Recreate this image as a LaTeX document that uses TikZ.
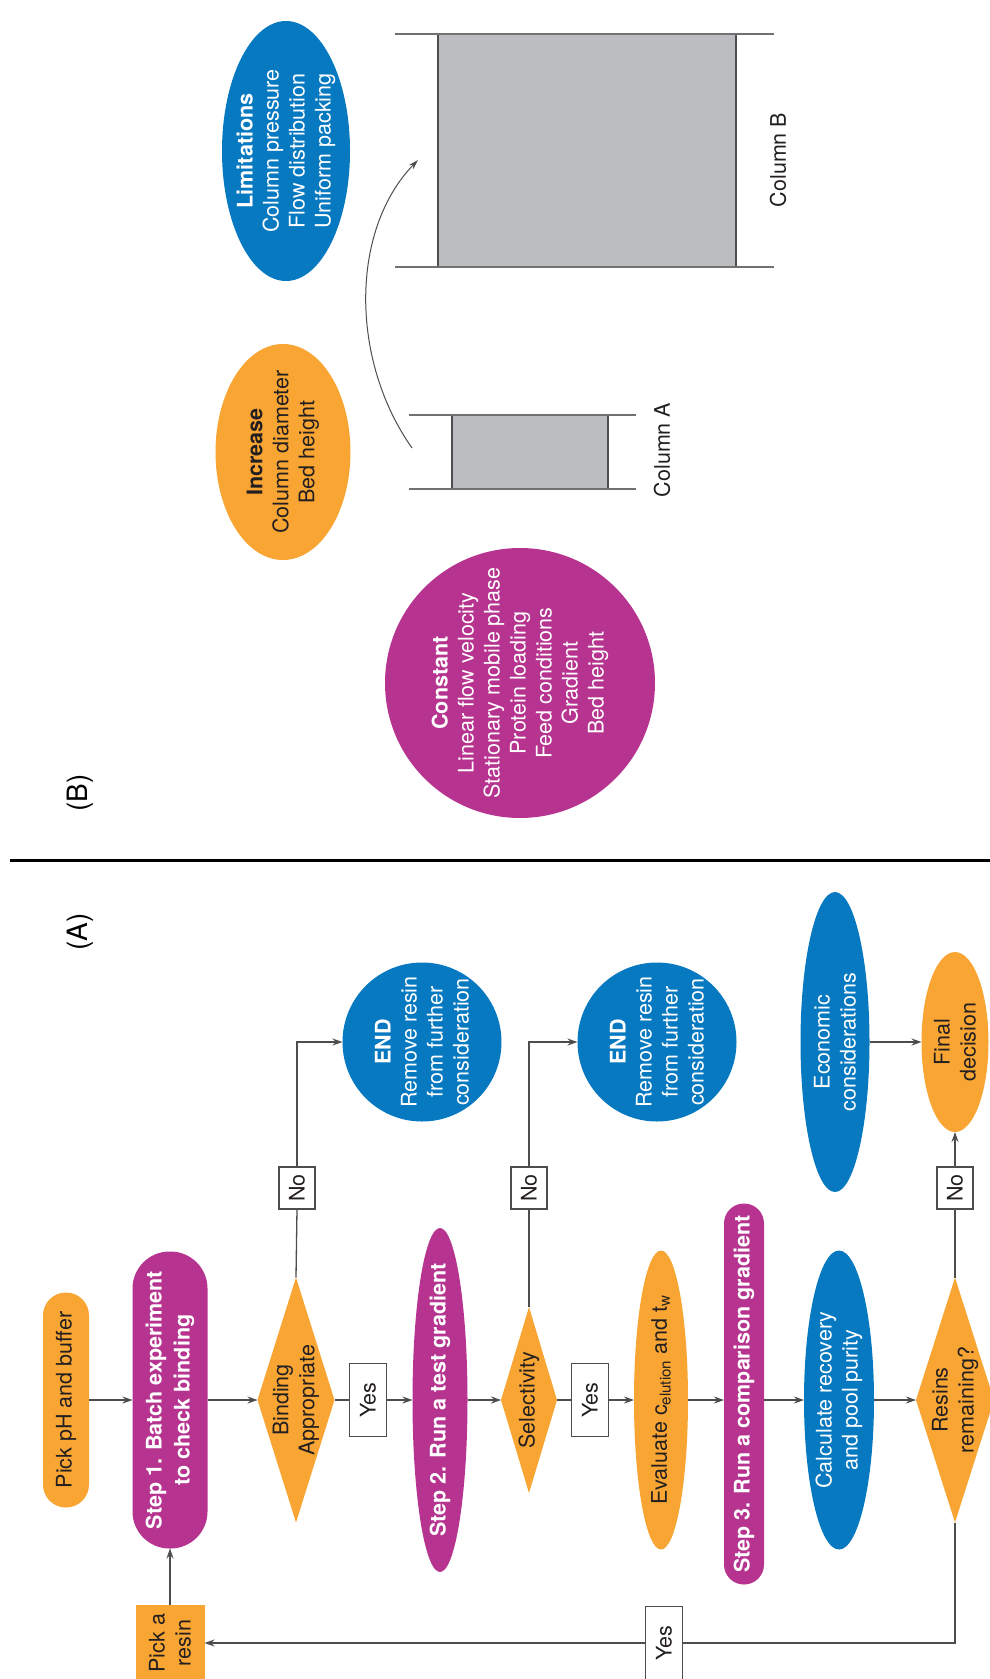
\documentclass[tikz,border=0pt]{standalone}
\usepackage{fontspec}
\setmainfont{TeX Gyre Heros}
\usetikzlibrary{shapes.geometric,arrows.meta}
\definecolor{orng}{HTML}{F8A533}
\definecolor{magn}{HTML}{B6338F}
\definecolor{blu}{HTML}{0779C1}
\definecolor{colgray}{HTML}{BCBDC0}
\definecolor{linec}{HTML}{4D4D4D}
\definecolor{txtdark}{HTML}{231F20}
\begin{document}
\begin{tikzpicture}[x=1pt,y=-1pt,
  shp/.style={draw=none, inner sep=0pt, outer sep=0pt},
  ell/.style={shp, ellipse},
  pill/.style={shp, rectangle},
  dia/.style={shp, diamond},
  txt/.style={rotate=90, align=center, inner sep=0pt, font=\fontsize{21.5}{26}\selectfont},
  wtxt/.style={txt, text=white},
  dtxt/.style={txt, text=txtdark},
  wbtxt/.style={wtxt, font=\fontsize{21.5}{28}\selectfont\bfseries},
  lbox/.style={draw=linec, line width=1.3pt, fill=white, inner sep=0pt, outer sep=0pt},
  conn/.style={draw=linec, line width=1.3pt},
  arr/.style={conn, -{Stealth[length=10pt,width=7pt]}},
  colline/.style={draw=linec!80, line width=1.3pt},
  colrect/.style={rectangle, fill=colgray, draw=linec, line width=1.3pt, inner sep=0pt, outer sep=0pt},
  panel/.style={rotate=90, inner sep=0pt, font=\fontsize{28}{30}\selectfont, text=black}
]
\useasboundingbox (0,0) rectangle (990,1679);

% ---------------- Panel B ----------------
\node[panel] (labB) at (80,793) {(B)};
\node[circle, shp, fill=magn, minimum size=270] (const) at (520,683) {};
\node[wtxt] (constT) at (const) {\textbf{Constant}\\Linear flow velocity\\Stationary mobile phase\\Protein loading\\Feed conditions\\Gradient\\Bed height};
\node[ell, fill=orng, minimum width=135, minimum height=216] (inc) at (283,452) {};
\node[dtxt] (incT) at (inc) {\textbf{Increase}\\Column diameter\\Bed height};
\node[ell, fill=blu, minimum width=128, minimum height=260] (lim) at (286,151) {};
\node[wtxt] (limT) at (lim) {\textbf{Limitations}\\Column pressure\\Flow distribution\\Uniform packing};

\node[colrect, minimum width=156, minimum height=74] (colA) at (530,452) {};
\draw[colline] (409,415) -- (636,415);
\draw[colline] (409,489) -- (636,489);
\node[dtxt] (colAT) at (662,450) {Column A};

\node[colrect, minimum width=298, minimum height=233] (colB) at (587,150.5) {};
\draw[colline] (395,34) -- (774,34);
\draw[colline] (395,267) -- (774,267);
\node[dtxt] (colBT) at (778,160) {Column B};

\coordinate (cs) at (412,448);
\coordinate (ce) at (418,160);
\draw[draw=linec, line width=1pt, -{Stealth[length=10pt,width=6pt]}] (cs) .. controls (350,360) and (350,230) .. (ce);

% separator
\draw[line width=3pt, black] (10,860) -- (990,860);

% ---------------- Panel A ----------------
\node[panel] (labA) at (80,932) {(A)};

\node[pill, fill=orng, minimum width=46, minimum height=215, rounded corners=22.9pt] (pick) at (66,1400) {};
\node[dtxt] (pickT) at (pick) {Pick pH and buffer};

\node[pill, fill=magn, minimum width=75, minimum height=297, rounded corners=37pt] (s1) at (170,1400) {};
\node[wbtxt] (s1T) at (s1) {Step 1. Batch experiment\\to check binding};

\node[dia, fill=orng, minimum width=77, minimum height=245] (bind) at (296,1400) {};
\node[dtxt] (bindT) at (bind) {Binding\\Appropriate};

\node[lbox, minimum width=37, minimum height=73] (yes1) at (368,1400) {};
\node[dtxt] (yes1T) at (yes1) {Yes};

\node[ell, fill=magn, minimum width=55, minimum height=344] (s2) at (440,1400) {};
\node[wbtxt] (s2T) at (s2) {Step 2. Run a test gradient};

\node[dia, fill=orng, minimum width=56, minimum height=186] (sel) at (529,1400) {};
\node[dtxt] (selT) at (sel) {Selectivity};

\node[lbox, minimum width=37, minimum height=73] (yes2) at (590,1400) {};
\node[dtxt] (yes2T) at (yes2) {Yes};

\node[ell, fill=orng, minimum width=54, minimum height=299] (eval) at (661,1400) {};
\node[dtxt] (evalT) at (eval) {Evaluate c\textsubscript{elution} and t\textsubscript{w}};

\node[pill, fill=magn, minimum width=40, minimum height=381, rounded corners=19.9pt] (s3) at (744,1394) {};
\node[wbtxt] (s3T) at (s3) {Step 3. Run a comparison gradient};

\node[ell, fill=blu, minimum width=70, minimum height=299] (calc) at (839,1400) {};
\node[wtxt] (calcT) at (calc) {Calculate recovery\\and pool purity};

\node[dia, fill=orng, minimum width=78, minimum height=245] (res) at (955,1400) {};
\node[dtxt] (resT) at (res) {Resins\\remaining?};

\node[lbox, minimum width=36, minimum height=42] (no1) at (297,1188) {};
\node[dtxt] (no1T) at (no1) {No};
\node[lbox, minimum width=36, minimum height=42] (no2) at (529,1188) {};
\node[dtxt] (no2T) at (no2) {No};
\node[lbox, minimum width=36, minimum height=42] (no3) at (955,1188) {};
\node[dtxt] (no3T) at (no3) {No};

\node[circle, shp, fill=blu, minimum size=159] (end1) at (422,1042) {};
\node[wtxt] (end1T) at (end1) {\textbf{END}\\Remove resin\\from further\\consideration};
\node[circle, shp, fill=blu, minimum size=159] (end2) at (657,1042) {};
\node[wtxt] (end2T) at (end2) {\textbf{END}\\Remove resin\\from further\\consideration};

\node[ell, fill=blu, minimum width=69, minimum height=300] (econ) at (835,1042) {};
\node[wtxt] (econT) at (econ) {Economic\\considerations};
\node[ell, fill=orng, minimum width=67, minimum height=180] (final) at (955,1042) {};
\node[dtxt] (finalT) at (final) {Final\\decision};

\node[pill, fill=orng, minimum width=69, minimum height=76] (resin) at (170,1643) {};
\node[dtxt] (resinT) at (resin) {Pick a\\resin};
\node[lbox, minimum width=37, minimum height=73] (yes3) at (664,1643) {};
\node[dtxt] (yes3T) at (yes3) {Yes};

% connectors
\draw[arr] (pick.east) -- (s1.west);
\draw[arr] (s1.east) -- (bind.west);
\draw[conn] (bind.east) -- (yes1.west);
\draw[arr] (yes1.east) -- (s2.west);
\draw[arr] (s2.east) -- (sel.west);
\draw[conn] (sel.east) -- (yes2.west);
\draw[arr] (yes2.east) -- (eval.west);
\draw[arr] (eval.east) -- (eval.east -| s3.west);
\draw[arr] (calc.west -| s3.east) -- (calc.west);
\draw[arr] (calc.east) -- (res.west);

\draw[conn] (bind.north) -- (no1.south);
\draw[arr] (no1.north) |- (end1.west);
\draw[conn] (sel.north) -- (no2.south);
\draw[arr] (no2.north) |- (end2.west);
\draw[conn] (res.north) -- (no3.south);
\draw[arr] (no3.north) -- (final.south);
\draw[arr] (econ.east) -- (final.west);

\draw[conn] (res.south) |- (yes3.east);
\draw[arr] (yes3.west) -- (resin.east);
\draw[arr] (resin.north) -- (s1.south);
\end{tikzpicture}
\end{document}
